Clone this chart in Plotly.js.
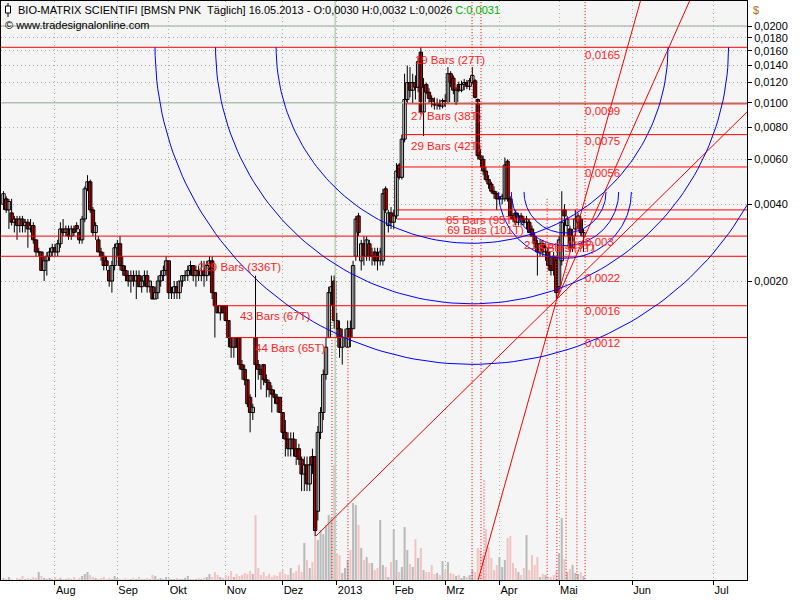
<!DOCTYPE html>
<html><head><meta charset="utf-8">
<script src="https://cdn.plot.ly/plotly-3.0.1.min.js"></script>
<style>html,body{margin:0;padding:0;background:#fff}#chart{width:800px;height:600px}</style>
</head><body><div id="chart"></div>
<script>
// ---------- price data (daily bars, BMSN, Jul 2012 - 16.05.2013) ----------
const openP = [.0040,.0042,.0038,.0037,.0034,.0035,.0033,.0035,.0033,.0034,.0032,.0033,.0029,.0026,.0026,.0022,.0024,.0025,.0026,.0027,
.0026,.0028,.0032,.0031,.0032,.0030,.0032,.0033,.0031,.0029,.0035,.0046,.0049,.0038,.0031,.0029,.0026,.0025,.0024,.0022,
.0020,.0023,.0027,.0028,.0023,.0022,.0021,.0020,.0021,.0020,.0021,.0019,.0020,.0021,.0019,.0019,.0017,.0018,.0020,.0021,
.0022,.0024,.0018,.0018,.0019,.0018,.0020,.0021,.0021,.0022,.0023,.0021,.0022,.0021,.0022,.0021,.0023,.0024,.0018,.0016,
.0015,.0016,.0016,.0014,.0012,.0011,.0012,.0012,.00094,.00090,.00082,.00070,.00061,.0012,.00094,.00090,.00094,.00082,.00080,.00075,
.00072,.00070,.00070,.00061,.00051,.00048,.00044,.00048,.00044,.00044,.00040,.00035,.00038,.00032,.00041,.00041,.00025,.00051,.00061,.00086,
.0012,.0018,.0020,.0014,.0013,.0011,.0012,.0011,.0013,.0013,.0025,.0036,.0024,.0028,.0025,.0028,.0025,.0026,.0025,.0024,
.0024,.0046,.0033,.0037,.0034,.0036,.0057,.0051,.0072,.0103,.0120,.0112,.0120,.0115,.0158,.0092,.0118,.0110,.0104,.0100,
.0098,.0100,.0097,.0102,.0100,.0130,.0125,.0100,.0118,.0112,.0118,.0120,.0116,.0120,.0122,.0103,.0062,.0060,.0054,.0050,
.0048,.0045,.0044,.0042,.0042,.0042,.0059,.0042,.0036,.0037,.0034,.0036,.0035,.0034,.0034,.0032,.0030,.0028,.0026,.0028,
.0026,.0026,.0023,.0025,.0024,.0019,.0024,.0038,.0033,.0032,.0027,.0032,.0034,.0035,.0030];
const highP = [.0045,.0043,.0042,.0042,.0036,.0036,.0036,.0036,.0035,.0035,.0035,.0034,.0029,.0027,.0026,.0025,.0026,.0027,.0028,.0028,
.0029,.0034,.0035,.0033,.0033,.0033,.0033,.0034,.0032,.0036,.0047,.0052,.0050,.0039,.0034,.0030,.0027,.0026,.0025,.0023,
.0024,.0028,.0029,.0030,.0025,.0023,.0022,.0022,.0022,.0022,.0022,.0021,.0022,.0022,.0020,.0019,.0019,.0021,.0022,.0023,
.0025,.0024,.0019,.0020,.0020,.0020,.0021,.0022,.0023,.0024,.0023,.0023,.0023,.0024,.0024,.0024,.0025,.0025,.0018,.0016,
.0016,.0016,.0016,.0014,.0012,.0012,.0012,.0012,.00098,.00094,.00082,.00072,.00066,.0021,.00098,.00094,.00094,.00086,.00082,.00078,
.00075,.00072,.00070,.00061,.00057,.00051,.00051,.00051,.00048,.00046,.00041,.00041,.00041,.00041,.00044,.00041,.00054,.00064,.00090,.0012,
.0019,.0021,.0021,.0015,.0014,.0013,.0013,.0014,.0014,.0024,.0036,.0037,.0029,.0030,.0030,.0029,.0027,.0027,.0027,.0027,
.0046,.0047,.0038,.0039,.0038,.0058,.0058,.0075,.0130,.0140,.0138,.0130,.0128,.0150,.0165,.0125,.0120,.0114,.0107,.0105,
.0104,.0103,.0104,.0108,.0138,.0133,.0128,.0115,.0121,.0122,.0124,.0123,.0125,.0138,.0124,.0104,.0066,.0062,.0056,.0052,
.0049,.0047,.0045,.0043,.0044,.0061,.0060,.0043,.0037,.0038,.0037,.0037,.0036,.0036,.0035,.0033,.0031,.0029,.0029,.0029,
.0028,.0027,.0025,.0026,.0025,.0030,.0045,.0040,.0036,.0033,.0032,.0038,.0037,.0036,.0032];
const lowP = [.0038,.0037,.0032,.0033,.0031,.0029,.0031,.0031,.0031,.0027,.0031,.0028,.0025,.0025,.0022,.0020,.0021,.0024,.0025,.0025,
.0025,.0027,.0030,.0030,.0029,.0029,.0030,.0031,.0028,.0028,.0034,.0045,.0037,.0030,.0029,.0026,.0024,.0022,.0022,.0019,
.0018,.0022,.0025,.0022,.0021,.0020,.0019,.0018,.0019,.0017,.0019,.0018,.0019,.0018,.0018,.0017,.0017,.0017,.0019,.0020,
.0021,.0017,.0017,.0017,.0017,.0017,.0019,.0020,.0020,.0021,.0020,.0019,.0020,.0020,.0019,.0020,.0021,.0017,.0012,.0015,
.0014,.0015,.0014,.0011,.0010,.0010,.0011,.00090,.00082,.00078,.00064,.00051,.00057,.00070,.00082,.00075,.00078,.00070,.00070,.00061,
.00066,.00061,.00061,.00048,.00041,.00041,.00041,.00041,.00038,.00038,.00030,.00030,.00030,.00030,.00035,.00020,.00023,.00048,.00057,.00082,
.0012,.0016,.0013,.0012,.0010,.00094,.0011,.0011,.0011,.0013,.0024,.0030,.0022,.0023,.0024,.0024,.0023,.0023,.0022,.0023,
.0023,.0037,.0031,.0032,.0032,.0035,.0050,.0050,.0070,.0100,.0105,.0100,.0103,.0110,.0090,.0074,.0108,.0100,.0096,.0094,
.0094,.0094,.0095,.0096,.0100,.0115,.0108,.0098,.0110,.0110,.0112,.0113,.0112,.0118,.0104,.0060,.0056,.0052,.0049,.0046,
.0044,.0042,.0038,.0040,.0040,.0041,.0041,.0035,.0034,.0033,.0033,.0033,.0033,.0032,.0031,.0030,.0027,.0021,.0025,.0025,
.0024,.0022,.0021,.0021,.0017,.0018,.0023,.0030,.0030,.0026,.0026,.0030,.0032,.0030,.0026];
const closeP = [.0044,.0038,.0041,.0034,.0035,.0033,.0035,.0033,.0034,.0032,.0033,.0029,.0026,.0026,.0022,.0024,.0025,.0026,.0027,.0026,
.0028,.0032,.0031,.0032,.0030,.0032,.0031,.0032,.0029,.0035,.0046,.0049,.0038,.0031,.0033,.0026,.0025,.0023,.0023,.0020,
.0023,.0027,.0028,.0023,.0022,.0021,.0020,.0021,.0020,.0021,.0019,.0020,.0021,.0019,.0020,.0017,.0018,.0020,.0021,.0022,
.0024,.0018,.0018,.0019,.0018,.0020,.0021,.0021,.0022,.0023,.0021,.0022,.0021,.0022,.0021,.0023,.0024,.0018,.0016,.0015,
.0016,.0015,.0014,.0012,.0011,.0012,.0011,.00094,.00090,.00082,.00066,.00061,.00064,.00094,.00090,.00086,.00082,.00080,.00075,.00072,
.00070,.00066,.00061,.00051,.00048,.00044,.00048,.00044,.00041,.00040,.00035,.00038,.00032,.00038,.00038,.00021,.00051,.00061,.00086,.0011,
.0018,.0019,.0014,.0013,.0011,.0012,.0012,.0013,.0012,.0023,.0035,.0031,.0028,.0025,.0029,.0025,.0025,.0024,.0024,.0026,
.0044,.0038,.0037,.0034,.0036,.0054,.0051,.0072,.0103,.0120,.0112,.0120,.0115,.0145,.0092,.0115,.0110,.0104,.0100,.0098,
.0100,.0097,.0102,.0100,.0130,.0120,.0112,.0112,.0112,.0118,.0120,.0116,.0122,.0128,.0105,.0062,.0060,.0054,.0050,.0048,
.0045,.0044,.0042,.0042,.0043,.0057,.0042,.0036,.0035,.0034,.0036,.0035,.0034,.0035,.0031,.0030,.0028,.0026,.0028,.0026,
.0027,.0023,.0022,.0022,.0018,.0029,.0034,.0036,.0035,.0027,.0030,.0035,.0036,.0031,.0031];
const volume = [2,1,3,1,0,2,1,4,1,2,1,
3,2,8,4,2,1,2,1,3,1,
2,1,1,2,1,3,1,2,4,6,
8,5,3,2,1,2,3,1,2,1,
4,2,1,1,2,1,1,2,1,3,
1,1,2,1,5,4,1,2,1,3,
2,1,1,2,1,1,2,4,1,1,
1,2,1,2,3,6,3,8,5,3,
2,5,4,9,3,6,4,5,7,6,
9,6,65,12,5,8,4,6,3,5,
4,8,10,6,5,12,7,9,15,8,
37,20,12,18,45,40,50,46,55,65,
62,115,27,25,7,12,20,30,77,75,
55,32,20,23,17,17,10,12,60,15,
13,3,18,51,20,8,13,53,30,16,
13,41,22,32,10,8,8,15,6,7,
5,19,10,18,7,6,4,5,2,4,
3,5,10,8,32,30,25,51,33,22,
10,15,23,13,20,42,44,17,12,8,
5,12,45,10,25,15,23,3,6,5,
3,3,5,9,27,62,21,8,11,15,
7,6,8,4];

// ---------- axis labels ----------
const monthLabels = ['Aug','Sep','Okt','Nov','Dez','2013','Feb','Mrz','Apr','Mai','Jun','Jul'];
const monthTickBar = [19,42,61,82,103,123,144,163,183,205,232,262];
const priceTicks = [0.002,0.004,0.006,0.008,0.010,0.012,0.014,0.016,0.018,0.020];
const majorPriceLines = [0.010,0.020];
const yearLineBar = [122.4];

// ---------- drawing tools (in bar index / price) ----------
const levelPrice    = [0.0165,0.0099,0.0075,0.0056,0.0038,0.0035,0.0030,0.0025,0.0016,0.0012];
const levelStartBar = [-2,148.2,147.4,145.6,145.2,145.2,-2,-2,77.3,82.8];
const zoneBar       = [121.2,127.1,172.9,176.2,177.3,200.6,204.2,207.6,211.6,214.6];
const zoneTopPrice  = [0.00154,0.0011,0.03,0.03,0.00033,0.0042,0.0026,0.0027,0.0078,0.03];
const arcFromA = [115.3,0.00020], arcCenterA = [172.9,0.0165];
const arcFromB = [204.2,0.0017],  arcCenterB = [207.2,0.00447];
const fibRatios = [0.382,0.5,0.618];
const fanFrom    = [[115.3,0.00020],[204.2,0.0017],[204.2,0.0017]];
const fanThrough = [[204.2,0.0017],[221.2,0.0075],[231.2,0.0075]];
const fanStartBar = [115.3,160,204.2];
const barLabels = ['19 Bars (27T)','27 Bars (38T)','29 Bars (42T)','65 Bars (95T)','69 Bars (101T)','21 Bars (29T)','5 Bars (7T)','229 Bars (336T)','43 Bars (67T)','44 Bars (65T)'];
const barLabelBar = [151.8,150.4,150.4,163.3,163.7,192.1,197.0,71.8,87.3,92.8];
const barLabelPrice = [0.01458,0.0088,0.0067,0.00344,0.00314,0.00274,0.00267,0.00225,0.001445,0.001083];
const levelLabels = ['0,0165','0,0099','0,0075','0,0056','0,003','0,0022','0,0016','0,0012'];
const levelLabelBar = 214.6;
const levelLabelPrice = [0.01525,0.0092,0.00702,0.00526,0.00282,0.00204,0.00151,0.00113];

// ---------- geometry ----------
const W = 800, H = 600, M = {l:1, r:53, t:1, b:20};
const plotW = W - M.l - M.r, plotH = H - M.t - M.b;
const xRange = [-0.92, 274.35];
const yRange = [-3.8715, -1.6009];
const pxPerBar = plotW / (xRange[1]-xRange[0]);
const pxPerDec = plotH / (yRange[1]-yRange[0]);
const idx = openP.map((_, i) => i);
const L10 = Math.log10;

const traces = [];
traces.push({type:'bar', x:idx, y:volume, xaxis:'x', yaxis:'y', width:0.75,
  marker:{color: idx.map(i => closeP[i] < openP[i] ? '#f0c4c4' : '#bababa'), line:{width:0}},
  hoverinfo:'skip'});

// solid reference lines
majorPriceLines.forEach(p => traces.push({type:'scatter', mode:'lines', x:[xRange[0]-5, xRange[1]+5], y:[p,p],
  xaxis:'x', yaxis:'y2', line:{color:'#b2c2b2', width:1.5}, hoverinfo:'skip'}));
yearLineBar.forEach(b => traces.push({type:'scatter', mode:'lines', x:[b,b], y:[1e-5,1], xaxis:'x', yaxis:'y2',
  line:{color:'#b8d0b8', width:1.5}, hoverinfo:'skip'}));

// candles: wicks + bodies
{ const wx=[], wy=[];
  idx.forEach(i => { wx.push(i, i, null); wy.push(lowP[i], highP[i], null); });
  traces.push({type:'scatter', mode:'lines', x:wx, y:wy, xaxis:'x', yaxis:'y2', line:{color:'#000', width:1}, hoverinfo:'skip'}); }
traces.push({type:'bar', x:idx, base:openP, y:idx.map(i => closeP[i] - openP[i]), xaxis:'x', yaxis:'y2', width:1.25,
  marker:{color: idx.map(i => closeP[i] < openP[i] ? '#ff0000' : '#ffffff'), line:{color:'#000', width:1}},
  hoverinfo:'skip'});

// horizontal levels
{ const xs=[], ys=[];
  levelPrice.forEach((p,k) => { xs.push(levelStartBar[k], xRange[1]+5, null); ys.push(p, p, null); });
  traces.push({type:'scatter', mode:'lines', x:xs, y:ys, xaxis:'x', yaxis:'y2', line:{color:'#ff0000', width:1}, hoverinfo:'skip', connectgaps:false}); }
// time zones
{ const xs=[], ys=[];
  zoneBar.forEach((b,k) => { xs.push(b, b, null); ys.push(zoneTopPrice[k], 1e-5, null); });
  traces.push({type:'scatter', mode:'lines', x:xs, y:ys, xaxis:'x', yaxis:'y2', line:{color:'#ff0000', width:1, dash:'1px,2px'}, hoverinfo:'skip'}); }
// fan lines
fanFrom.forEach((a,k) => {
  const b = fanThrough[k];
  const slope = (L10(b[1]) - L10(a[1])) / (b[0] - a[0]);
  const x0 = fanStartBar[k], x1 = xRange[1] + 20;
  traces.push({type:'scatter', mode:'lines', x:[x0, x1],
    y:[Math.pow(10, L10(a[1]) + slope*(x0-a[0])), Math.pow(10, L10(a[1]) + slope*(x1-a[0]))],
    xaxis:'x', yaxis:'y2', line:{color:'#ff0000', width:1}, hoverinfo:'skip'});
});
// fibonacci arcs
function arcs(from, center) {
  const dx = (center[0]-from[0])*pxPerBar, dy = (L10(center[1])-L10(from[1]))*pxPerDec;
  const R = Math.sqrt(dx*dx + dy*dy);
  fibRatios.forEach(f => {
    const r = R*f, xs=[], ys=[];
    for (let k=0; k<=120; k++) { const t = Math.PI*k/120;
      xs.push(center[0] + r*Math.cos(t)/pxPerBar);
      ys.push(center[1] * Math.pow(10, -r*Math.sin(t)/pxPerDec)); }
    traces.push({type:'scatter', mode:'lines', x:xs, y:ys, xaxis:'x', yaxis:'y2', line:{color:'#0000ff', width:1}, hoverinfo:'skip'});
  });
}
arcs(arcFromA, arcCenterA);
arcs(arcFromB, arcCenterB);

// labels
traces.push({type:'scatter', mode:'text', x:barLabelBar, y:barLabelPrice, text:barLabels, textposition:'middle right',
  textfont:{family:'Liberation Sans, Arial, sans-serif', size:11.5, color:'#ff2424'}, xaxis:'x', yaxis:'y2', hoverinfo:'skip', cliponaxis:false});
traces.push({type:'scatter', mode:'text', x:levelLabelPrice.map(() => levelLabelBar), y:levelLabelPrice, text:levelLabels, textposition:'middle right',
  textfont:{family:'Liberation Sans, Arial, sans-serif', size:11.5, color:'#ff2424'}, xaxis:'x', yaxis:'y2', hoverinfo:'skip', cliponaxis:false});

const px = v => (v - M.l)/plotW, py = v => (H - M.b - v)/plotH;
const layout = {
  width:W, height:H, margin:{l:M.l, r:M.r, t:M.t, b:M.b, pad:0},
  paper_bgcolor:'#ffffff', plot_bgcolor:'#f5f5f5', showlegend:false, separators:',.', barmode:'overlay',
  font:{family:'Liberation Sans, Arial, sans-serif', size:11, color:'#000'},
  xaxis:{range:xRange, tickvals:monthTickBar, ticktext:monthLabels, ticks:'outside', ticklen:4, tickcolor:'#000',
    ticklabelposition:'outside right', showgrid:true, gridcolor:'#a0b8a0', griddash:'1px,3px', gridwidth:1,
    showline:true, linecolor:'#000', linewidth:1, mirror:true, zeroline:false, fixedrange:true,
    tickfont:{size:11, color:'#000'}},
  yaxis:{range:[0, plotH], visible:false, fixedrange:true, showgrid:false, zeroline:false},
  yaxis2:{type:'log', overlaying:'y', side:'right', range:yRange, tickvals:priceTicks, tickformat:'.4f',
    ticks:'outside', ticklen:4, tickcolor:'#000', showgrid:true, gridcolor:'#a8a8a8', griddash:'1px,3px', gridwidth:1,
    showline:true, linecolor:'#000', linewidth:1, mirror:true, zeroline:false, fixedrange:true, tickfont:{size:11, color:'#000'}},
  annotations:[
    {xref:'paper', yref:'paper', x:px(16), y:py(10), xanchor:'left', yanchor:'middle', showarrow:false,
     text:'BIO-MATRIX SCIENTIFI [BMSN PNK\u00a0 Täglich] 16.05.2013 - O:0,0030 H:0,0032 L:0,0026 <span style="color:#00b000">C:0,0031</span>',
     font:{size:11, color:'#000'}},
    {xref:'paper', yref:'paper', x:px(3), y:py(25), xanchor:'left', yanchor:'middle', showarrow:false,
     text:'© www.tradesignalonline.com', font:{size:11, color:'#000'}},
    {xref:'paper', yref:'paper', x:px(751), y:py(10), xanchor:'left', yanchor:'middle', showarrow:false,
     text:'$', font:{size:11, color:'#b06a10'}}
  ],
  shapes:[
    {type:'line', xref:'paper', yref:'paper', x0:px(8), x1:px(8), y0:py(3), y1:py(17), line:{color:'#000', width:1}},
    {type:'rect', xref:'paper', yref:'paper', x0:px(5.5), x1:px(10.5), y0:py(6), y1:py(13), fillcolor:'#ffffff', line:{color:'#000', width:1}}
  ]
};
Plotly.newPlot('chart', traces, layout, {staticPlot:true, displayModeBar:false});
</script></body></html>
